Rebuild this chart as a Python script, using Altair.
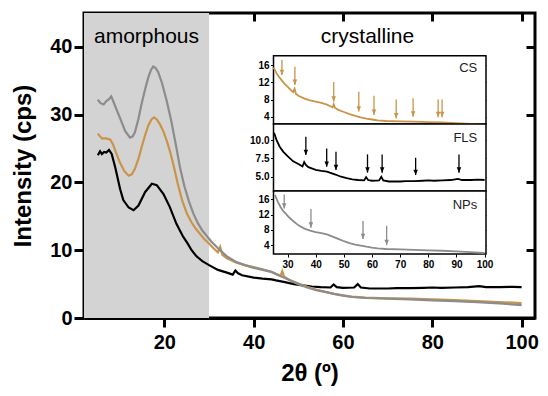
import altair as alt
import pandas as pd

# ---------------- data ----------------
fls_x = [5.1, 5.6, 6.0, 6.5, 7.0, 7.6, 8.2, 9.0, 10.1, 10.8, 12.0, 13.1, 14.2, 15.7, 17.2, 18.3,
         19.8, 21.2, 22.7, 24.2, 25.2, 26.1, 27.2, 28.5, 30.0, 32.0, 34.0, 35.3, 35.9, 36.5, 37.4,
         40.0, 42.0, 44.0, 45.0, 47.0, 49.0, 51.0, 53.0, 55.0, 57.2, 57.9, 58.6, 60.0, 62.5, 63.3,
         64.0, 66.0, 70.0, 72.0, 75.0, 78.0, 80.0, 82.0, 85.0, 88.0, 90.5, 92.0, 95.0, 98.0, 100.0]
fls_y = [24.0, 24.6, 24.2, 24.5, 24.4, 24.8, 24.2, 22.2, 19.0, 17.4, 16.3, 15.9, 16.6, 18.6, 19.8, 19.6,
         18.3, 16.4, 13.9, 12.0, 11.0, 10.0, 9.1, 8.4, 7.8, 7.1, 6.7, 6.4, 7.0, 6.6, 6.3,
         5.95, 5.8, 5.7, 5.55, 5.3, 5.0, 4.8, 4.65, 4.55, 4.5, 4.95, 4.55, 4.45, 4.5, 5.0,
         4.5, 4.35, 4.35, 4.4, 4.4, 4.45, 4.5, 4.45, 4.5, 4.55, 4.7, 4.55, 4.55, 4.6, 4.55]

cs_x = [5.1, 5.6, 6.0, 7.0, 7.9, 8.5, 9.0, 10.0, 11.0, 12.0, 12.7, 13.4, 14.2, 14.9, 15.7, 16.4,
        17.1, 17.7, 18.3, 19.0, 19.8, 20.5, 21.3, 22.0, 23.0, 24.0, 25.0, 26.0, 27.0, 28.0, 29.0,
        30.0, 31.0, 32.0, 32.5, 33.0, 34.0, 36.0, 38.0, 40.0, 42.0, 44.0, 46.0, 46.4, 46.8, 48.0,
        50.0, 52.0, 54.0, 56.0, 58.0, 60.0, 62.0, 65.0, 70.0, 75.0, 80.0, 85.0, 90.0, 95.0, 100.0]
cs_y = [27.2, 26.8, 26.5, 26.5, 26.3, 25.6, 24.7, 23.0, 21.7, 21.0, 21.2, 22.0, 23.5, 25.2, 27.0, 28.4,
        29.3, 29.6, 29.3, 28.6, 27.5, 26.2, 24.5, 22.7, 19.8, 17.3, 15.5, 14.2, 13.2, 12.4, 11.6,
        11.0, 10.3, 9.7, 10.5, 9.3, 8.8, 8.2, 7.8, 7.5, 7.2, 6.8, 6.2, 6.9, 6.1, 5.6,
        5.1, 4.6, 4.2, 3.85, 3.55, 3.35, 3.15, 3.0, 2.9, 2.85, 2.75, 2.65, 2.5, 2.35, 2.2]

nps_x = [5.1, 5.7, 6.4, 7.0, 7.6, 8.1, 8.6, 9.2, 9.7, 10.5, 11.2, 12.3, 12.9, 13.4, 14.2, 14.9,
         15.7, 16.4, 17.0, 17.5, 18.0, 18.6, 19.5, 20.5, 21.5, 22.5, 23.5, 24.5, 25.5, 26.5, 27.5,
         28.5, 29.5, 30.5, 32.0, 33.0, 34.0, 36.0, 38.0, 40.0, 42.0, 44.0, 46.0, 48.0, 50.0, 52.0,
         54.0, 56.0, 58.0, 60.0, 62.0, 65.0, 70.0, 75.0, 80.0, 85.0, 90.0, 95.0, 100.0]
nps_y = [32.2, 31.7, 31.5, 32.0, 32.3, 32.7, 31.9, 30.9, 30.1, 28.8, 27.6, 26.6, 26.8, 27.4, 29.4, 31.6,
         33.8, 35.5, 36.6, 37.1, 36.9, 36.3, 34.6, 32.1, 29.2, 25.8, 22.2, 19.4, 17.2, 15.4, 14.0,
         12.9, 12.1, 11.3, 10.3, 9.7, 9.1, 8.3, 7.8, 7.4, 7.1, 6.8, 6.2, 5.6, 5.0, 4.5,
         4.1, 3.85, 3.55, 3.3, 3.1, 2.95, 2.85, 2.75, 2.6, 2.5, 2.35, 2.15, 1.9]

series_names = ["FLS", "CS", "NPs"]
series_colors = ["#000000", "#C99449", "#8C8C8C"]

cs_arrow_x = [28.0, 32.6, 46.4, 55.3, 60.7, 68.6, 74.6, 83.5, 84.9]
cs_arrow_top = [17.2, 15.6, 12.1, 9.8, 8.9, 8.0, 8.3, 8.0, 8.0]
cs_arrow_tip = [13.7, 11.4, 7.5, 5.2, 4.4, 3.6, 4.0, 3.9, 3.9]
fls_arrow_x = [36.5, 43.9, 47.2, 58.4, 63.6, 75.5, 90.9]
fls_arrow_top = [10.45, 8.87, 8.41, 8.05, 8.05, 7.59, 8.05]
fls_arrow_tip = [7.96, 6.36, 5.91, 5.55, 5.55, 5.23, 5.55]
nps_arrow_x = [28.8, 38.3, 56.8, 65.2]
nps_arrow_top = [17.3, 13.45, 10.3, 9.07]
nps_arrow_tip = [13.6, 8.55, 5.58, 4.0]

main_x_ticks = [20, 40, 60, 80, 100]
main_y_ticks = [0, 10, 20, 30, 40]
inset_x_ticks = [30, 40, 50, 60, 70, 80, 90, 100]
cs_y_ticks = [4, 8, 12, 16]
fls_y_ticks = [5.0, 7.5, 10.0]
nps_y_ticks = [4, 8, 12, 16]

region_names = ["amorphous", "crystalline"]
region_start = [2, 30]
region_end = [30, 101]

# ---------------- layout / style ----------------
W, H = 451, 305
FONT = "Liberation Sans"
INSET_LEFT, INSET_RIGHT = 189.5, 402.0


def sc(domain, rng):
    return alt.Scale(domain=domain, range=rng, nice=False, zero=False)


def tick_axis(orient, values, offset, size, width):
    return alt.Axis(orient=orient, values=values, offset=offset, tickSize=size,
                    tickWidth=width, tickColor="black", domain=False, labels=False,
                    title=None, grid=False)


MX = sc([2, 103], [0, W])
MY = sc([0, 45], [H, 0])
IX = sc([25, 100.5], [INSET_LEFT, INSET_RIGHT])

layers = []

# shaded amorphous region (+ inward top / right ticks of the main frame)
shade_df = pd.DataFrame({"x0": [region_start[0]], "x1": [region_end[0]],
                         "y0": [0], "y1": [45]})
layers.append(
    alt.Chart(shade_df).mark_rect(color="#D3D3D3").encode(
        x=alt.X("x0:Q", scale=MX, axis=tick_axis("top", main_x_ticks, -8, 8, 3)),
        x2="x1:Q",
        y=alt.Y("y0:Q", scale=MY, axis=tick_axis("right", main_y_ticks[1:], -9, 9, 3)),
        y2="y1:Q",
    )
)

# main curves
main_df = pd.concat([
    pd.DataFrame({"x": fls_x, "y": fls_y, "s": "FLS"}),
    pd.DataFrame({"x": cs_x, "y": cs_y, "s": "CS"}),
    pd.DataFrame({"x": nps_x, "y": nps_y, "s": "NPs"}),
], ignore_index=True)

bottom_axis = alt.Axis(orient="bottom", values=main_x_ticks, tickSize=9, tickWidth=3,
                       tickColor="black", domainColor="black", domainWidth=3,
                       labelFont=FONT, labelFontSize=20, labelFontWeight="bold",
                       labelColor="black", labelPadding=5, title="2θ (º)",
                       titleFont=FONT, titleFontSize=24, titleFontWeight="bold",
                       titleColor="black", titlePadding=9, grid=False)
left_axis = alt.Axis(orient="left", values=main_y_ticks, tickSize=10, tickWidth=3,
                     tickColor="black", domainColor="black", domainWidth=3,
                     labelFont=FONT, labelFontSize=20, labelFontWeight="bold",
                     labelColor="black", labelPadding=2, title="Intensity (cps)",
                     titleFont=FONT, titleFontSize=24, titleFontWeight="bold",
                     titleColor="black", titlePadding=14, grid=False)

layers.append(
    alt.Chart(main_df).mark_line(strokeWidth=2.2).encode(
        x=alt.X("x:Q", scale=MX, axis=bottom_axis),
        y=alt.Y("y:Q", scale=MY, axis=left_axis),
        color=alt.Color("s:N", scale=alt.Scale(domain=series_names, range=series_colors),
                        legend=None),
        detail="s:N",
    )
)

# region labels
region_df = pd.DataFrame({"name": region_names,
                          "mid": [(a + b) / 2 for a, b in zip(region_start, region_end)],
                          "ly": [40.6, 40.6]})
layers.append(
    alt.Chart(region_df).mark_text(font=FONT, fontSize=21, baseline="alphabetic",
                                   align="center", color="black").encode(
        x=alt.X("mid:Q", scale=MX, axis=None),
        y=alt.Y("ly:Q", scale=MY, axis=None),
        text="name:N",
    )
)

# ---------------- inset ----------------
panels = [
    ("CS", cs_x, cs_y, cs_arrow_x, cs_arrow_top, cs_arrow_tip, series_colors[1],
     [2.3, 18.2], [111, 42.7], cs_y_ticks, "d", 14.45),
    ("FLS", fls_x, fls_y, fls_arrow_x, fls_arrow_top, fls_arrow_tip, series_colors[0],
     [3.05, 12.2], [178, 111], fls_y_ticks, ".1f", 9.73),
    ("NPs", nps_x, nps_y, nps_arrow_x, nps_arrow_top, nps_arrow_tip, series_colors[2],
     [1.64, 18.2], [241, 178], nps_y_ticks, "d", 13.45),
]

arrow_shape = "M-1,-2.4L1,-2.4L0,0Z"

for name, xs, ys, ax_, atop, atip, col, dom, rng, yt, fmt, label_y in panels:
    PY = sc(dom, rng)
    top_px = rng[1]
    frame_df = pd.DataFrame({"x0": [25], "x1": [100.5], "y0": [dom[0]], "y1": [dom[1]]})
    left_in_axis = alt.Axis(orient="left", offset=-INSET_LEFT, values=yt, format=fmt,
                            tickSize=3, tickWidth=1, tickColor="black", domain=False,
                            labelFont=FONT, labelFontSize=10, labelFontWeight="bold",
                            labelColor="black", labelPadding=1.5, title=None, grid=False)
    layers.append(
        alt.Chart(frame_df).mark_rect(fill="white", stroke="black", strokeWidth=1.5).encode(
            x=alt.X("x0:Q", scale=IX, axis=tick_axis("top", inset_x_ticks, -(top_px + 3), 3, 1)),
            x2="x1:Q",
            y=alt.Y("y0:Q", scale=PY, axis=left_in_axis),
            y2="y1:Q",
        )
    )

    line_df = pd.DataFrame({"x": xs, "y": ys})
    line_df = line_df[line_df["x"] >= 25]
    if name == "NPs":
        xaxis = alt.Axis(orient="bottom", offset=rng[0] - H, values=inset_x_ticks,
                         tickSize=3, tickWidth=1, tickColor="black", domain=False,
                         labelFont=FONT, labelFontSize=10, labelFontWeight="bold",
                         labelColor="black", labelPadding=2, title=None, grid=False)
    else:
        xaxis = None
    layers.append(
        alt.Chart(line_df).mark_line(color=col, strokeWidth=1.8).encode(
            x=alt.X("x:Q", scale=IX, axis=xaxis),
            y=alt.Y("y:Q", scale=PY,
                    axis=tick_axis("right", yt, (INSET_RIGHT - 3) - W, 3, 1)),
        )
    )

    arrow_df = pd.DataFrame({"x": ax_, "top": atop, "tip": atip})
    layers.append(
        alt.Chart(arrow_df).mark_rule(color=col, strokeWidth=1.3).encode(
            x=alt.X("x:Q", scale=IX, axis=None),
            y=alt.Y("top:Q", scale=PY, axis=None),
            y2="tip:Q",
        )
    )
    layers.append(
        alt.Chart(arrow_df).mark_point(shape=arrow_shape, filled=True, color=col,
                                       size=20, opacity=1).encode(
            x=alt.X("x:Q", scale=IX, axis=None),
            y=alt.Y("tip:Q", scale=PY, axis=None),
        )
    )

    lab_df = pd.DataFrame({"t": [name], "lx": [97.4], "ly": [label_y]})
    layers.append(
        alt.Chart(lab_df).mark_text(font=FONT, fontSize=13, align="right",
                                    baseline="alphabetic", color="#222222").encode(
            x=alt.X("lx:Q", scale=IX, axis=None),
            y=alt.Y("ly:Q", scale=PY, axis=None),
            text="t:N",
        )
    )

chart = alt.layer(*layers).resolve_scale(
    x="independent", y="independent", color="independent"
).properties(
    width=W, height=H,
    autosize=alt.AutoSizeParams(type="none"),
    padding={"left": 76, "top": 5, "right": 5, "bottom": 70},
).configure_view(stroke="black", strokeWidth=3)

chart.save("out.html", embed_options={"renderer": "svg", "actions": False})
